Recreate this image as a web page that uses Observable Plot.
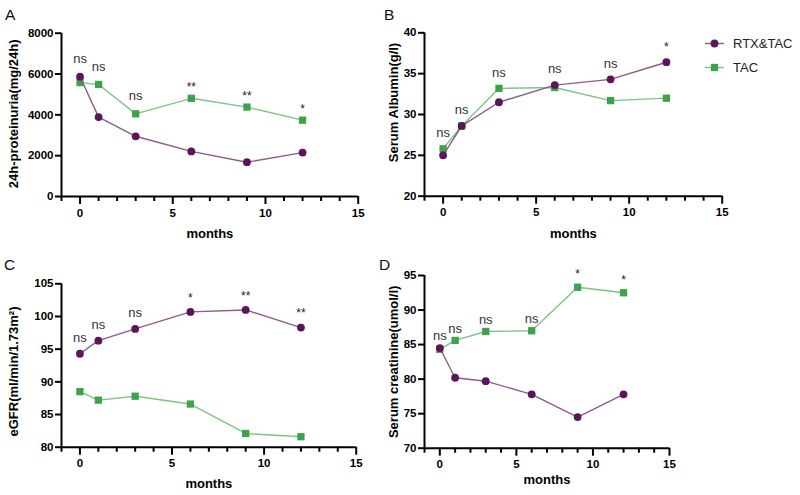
<!DOCTYPE html>
<html>
<head>
<meta charset="utf-8">
<script src="https://cdn.jsdelivr.net/npm/d3@7"></script>
<script src="https://cdn.jsdelivr.net/npm/@observablehq/plot@0.6"></script>
<style>
  html, body { margin: 0; padding: 0; background: #fff; }
  #wrap { position: relative; width: 800px; height: 495px; background: #fff; overflow: hidden; }
  #wrap > .panel { position: absolute; }
  #overlay { position: absolute; left: 0; top: 0; pointer-events: none; }
</style>
</head>
<body>
<div id="wrap"></div>
<script>
// ---------- data ----------
const months = [0, 1, 3, 6, 9, 12];
const groups = ["RTX&TAC", "TAC"];

const proteinuriaRTX = [5870, 3890, 2950, 2210, 1680, 2150];
const proteinuriaTAC = [5580, 5490, 4050, 4810, 4380, 3740];
const proteinuriaSig = ["ns", "ns", "ns", "**", "**", "*"];

const albuminRTX = [25.0, 28.6, 31.5, 33.6, 34.3, 36.4];
const albuminTAC = [25.8, 28.6, 33.2, 33.3, 31.7, 32.0];
const albuminSig = ["ns", "ns", "ns", "ns", "ns", "*"];

const egfrRTX = [94.3, 96.3, 98.1, 100.7, 101.0, 98.3];
const egfrTAC = [88.5, 87.2, 87.8, 86.6, 82.1, 81.6];
const egfrSig = ["ns", "ns", "ns", "*", "**", "**"];

const creatinineRTX = [84.5, 80.2, 79.7, 77.8, 74.5, 77.8];
const creatinineTAC = [84.3, 85.6, 86.9, 87.0, 93.3, 92.5];
const creatinineSig = ["ns", "ns", "ns", "ns", "*", "*"];

const xMajorTicks = [0, 5, 10, 15];
const xMinorTicks = [-1, 1, 2, 3, 4, 6, 7, 8, 9, 11, 12, 13, 14];
const proteinuriaTicks = [0, 2000, 4000, 6000, 8000];
const albuminTicks = [20, 25, 30, 35, 40];
const egfrTicks = [80, 85, 90, 95, 100, 105];
const creatinineTicks = [70, 75, 80, 85, 90, 95];

// ---------- styles ----------
const FONT = '"Liberation Sans", Arial, Helvetica, sans-serif';
const P_FILL = "#5a1659";
const P_LINE = "#8c5b8b";
const G_FILL = "#3ca24b";
const G_LINE = "#7bc585";
const R_DOT = 3.9;
const R_SQUARE = 4.1;

function panel(o) {
  const rtx = months.map((m, i) => ({month: m, value: o.rtx[i], group: groups[0]}));
  const tac = months.map((m, i) => ({month: m, value: o.tac[i], group: groups[1]}));
  const ann = months.map((m, i) => ({month: m, top: Math.max(o.rtx[i], o.tac[i]), label: o.sig[i]}));
  const ns = ann.filter(d => d.label === "ns");
  const stars = ann.filter(d => d.label !== "ns");
  const y0 = o.yticks[0], y1 = o.yticks[o.yticks.length - 1];
  const chart = Plot.plot({
    width: o.width, height: o.height,
    marginTop: o.mt, marginBottom: o.mb, marginLeft: o.ml, marginRight: o.mr,
    style: {fontFamily: FONT, background: "transparent", color: "#000", overflow: "visible"},
    x: {domain: [-1, 15]},
    y: {domain: [y0, y1]},
    marks: [
      Plot.axisY({ticks: o.yticks, tickSize: 6, tickPadding: 2, tickFormat: "d", strokeWidth: 2,
        fontWeight: "bold", fontSize: 11.5, label: null}),
      Plot.axisX({ticks: xMinorTicks, tickSize: 5, tickFormat: () => "", strokeWidth: 2, label: null}),
      Plot.axisX({ticks: xMajorTicks, tickSize: 8, tickPadding: 4, strokeWidth: 2,
        fontWeight: "bold", fontSize: 11.5, label: null}),
      Plot.ruleY([y0], {stroke: "#000", strokeWidth: 2}),
      Plot.ruleX([-1], {stroke: "#000", strokeWidth: 2}),
      Plot.line(tac, {x: "month", y: "value", stroke: G_LINE, strokeWidth: 1.4}),
      Plot.dot(tac, {x: "month", y: "value", symbol: "square", r: R_SQUARE, fill: G_FILL, stroke: "none"}),
      Plot.line(rtx, {x: "month", y: "value", stroke: P_LINE, strokeWidth: 1.4}),
      Plot.dot(rtx, {x: "month", y: "value", symbol: "circle", r: R_DOT, fill: P_FILL, stroke: "none"}),
      Plot.text(ns, {x: "month", y: "top", text: "label", dy: o.nsDy, fontSize: 13, fill: "#333"}),
      Plot.text(stars, {x: "month", y: "top", text: "label", dy: o.starDy, fontSize: 12, fill: "#222"}),
      Plot.text([o.ylabel], {text: d => d, frameAnchor: "left", textAnchor: "middle", lineAnchor: "middle",
        rotate: -90, dx: o.ylabelDx, dy: o.ylabelDy,
        fontWeight: "bold", fontSize: 13, fill: "#000"}),
      Plot.text(["months"], {text: d => d, frameAnchor: "bottom", lineAnchor: "middle", dy: o.xlabelDy,
        fontWeight: "bold", fontSize: 13, fill: "#000"})
    ]
  });
  chart.classList.add("panel");
  chart.style.left = o.left + "px";
  chart.style.top = o.top + "px";
  return chart;
}

const wrap = document.getElementById("wrap");

wrap.appendChild(panel({
  left: 0, top: 0, width: 370, height: 248, mt: 32.7, mb: 52, ml: 61, mr: 12.3,
  rtx: proteinuriaRTX, tac: proteinuriaTAC, sig: proteinuriaSig, yticks: proteinuriaTicks,
  ylabel: "24h-proteinuria(mg/24h)", ylabelDx: -48, ylabelDy: -1, xlabelDy: 37,
  nsDy: -18, starDy: -11
}));
wrap.appendChild(panel({
  left: 370, top: 0, width: 430, height: 248, mt: 32.3, mb: 52.3, ml: 54, mr: 78.3,
  rtx: albuminRTX, tac: albuminTAC, sig: albuminSig, yticks: albuminTicks,
  ylabel: "Serum Albumin(g/l)", ylabelDx: -31, ylabelDy: -12, xlabelDy: 37.5,
  nsDy: -16, starDy: -15
}));
wrap.appendChild(panel({
  left: 0, top: 248, width: 370, height: 247, mt: 35.3, mb: 48.3, ml: 61, mr: 14.3,
  rtx: egfrRTX, tac: egfrTAC, sig: egfrSig, yticks: egfrTicks,
  ylabel: "eGFR(ml/min/1.73m²)", ylabelDx: -48, ylabelDy: 6, xlabelDy: 37,
  nsDy: -16, starDy: -14
}));
wrap.appendChild(panel({
  left: 370, top: 248, width: 430, height: 247, mt: 27, mb: 47.3, ml: 54, mr: 131,
  rtx: creatinineRTX, tac: creatinineTAC, sig: creatinineSig, yticks: creatinineTicks,
  ylabel: "Serum creatinine(umol/l)", ylabelDx: -31, ylabelDy: 0, xlabelDy: 32,
  nsDy: -12, starDy: -13
}));

// ---------- panel letters and legend ----------
const overlay = d3.create("svg").attr("id", "overlay").attr("width", 800).attr("height", 495)
  .style("font-family", FONT);
const letters = [["A", 5, 19.5], ["B", 384, 19.5], ["C", 4, 269.5], ["D", 379, 269.5]];
overlay.selectAll("text.letter").data(letters).join("text").attr("class", "letter")
  .attr("x", d => d[1]).attr("y", d => d[2]).attr("font-size", 15.5).attr("fill", "#111").text(d => d[0]);

const legendItems = [
  {label: groups[0], fill: P_FILL, line: P_LINE, symbol: d3.symbolCircle, size: Math.PI * R_DOT * R_DOT, y: 43.5},
  {label: groups[1], fill: G_FILL, line: G_LINE, symbol: d3.symbolSquare, size: Math.PI * R_SQUARE * R_SQUARE, y: 67.5}
];
const lg = overlay.selectAll("g.leg").data(legendItems).join("g").attr("class", "leg")
  .attr("transform", d => `translate(0,${d.y})`);
lg.append("line").attr("x1", 705).attr("x2", 724).attr("stroke", d => d.line).attr("stroke-width", 1.4);
lg.append("path").attr("transform", "translate(714.5,0)").attr("d", d => d3.symbol(d.symbol, d.size)()).attr("fill", d => d.fill);
lg.append("text").attr("x", 733).attr("dy", "0.35em").attr("font-size", 13).attr("fill", "#222").text(d => d.label);
wrap.appendChild(overlay.node());
</script>
</body>
</html>
